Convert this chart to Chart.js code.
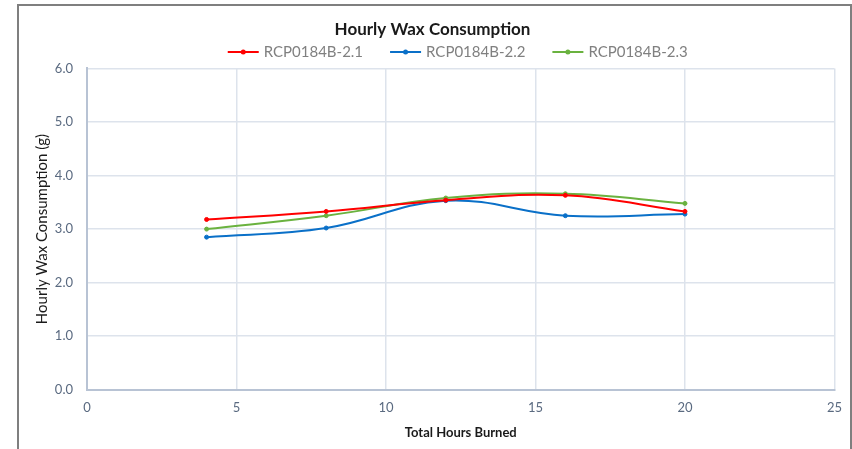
<!DOCTYPE html>
<html><head><meta charset="utf-8">
<script src="https://cdn.jsdelivr.net/npm/chart.js@4/dist/chart.umd.min.js"></script>
<style>
html,body{margin:0;padding:0;background:#fff;overflow:hidden;}
#frame{position:absolute;left:17px;top:4px;width:831px;height:470px;border:2px solid #7f7f7f;border-bottom:none;}
#wrap{position:absolute;left:0;top:0;width:852px;height:449px;}
</style></head>
<body>
<div id="frame"></div>
<div id="wrap"><canvas id="c" width="852" height="449"></canvas></div>
<script>
const hours = [4, 8, 12, 16, 20];
const seriesNames = ['RCP0184B-2.1', 'RCP0184B-2.2', 'RCP0184B-2.3'];
const s21 = [3.18, 3.33, 3.54, 3.63, 3.33];
const s22 = [2.85, 3.02, 3.53, 3.25, 3.28];
const s23 = [3.00, 3.25, 3.58, 3.66, 3.48];
const colors = ['#ff0000', '#0a70c8', '#6ab23f'];
const yTicks = [0, 1, 2, 3, 4, 5, 6];
const xTicks = [0, 5, 10, 15, 20, 25];

const all = [s21, s22, s23];
const datasets = all.map((vals, i) => ({
  label: seriesNames[i],
  data: hours.map((h, j) => ({x: h, y: vals[j]})),
  borderColor: colors[i],
  backgroundColor: colors[i],
  borderWidth: 2,
  pointRadius: 2,
  pointBorderWidth: 1,
  pointHoverRadius: 2,
  tension: 0.4,
  fill: false
}));

const lineLegend = {
  id: 'lineLegend',
  afterDraw(chart) {
    const ctx = chart.ctx;
    const ca = chart.chartArea;
    ctx.save();
    ctx.font = '15px Lato';
    const iconW = 31, gapIcon = 5, gapItem = 27;
    const items = chart.data.datasets.map((d) => ({ text: d.label, color: d.borderColor, w: ctx.measureText(d.label).width }));
    let total = 0;
    items.forEach((it, i) => { total += iconW + gapIcon + it.w + (i < items.length - 1 ? gapItem : 0); });
    let x = (ca.left + ca.right) / 2 - 3 - total / 2;
    const y = 52;
    items.forEach((it) => {
      ctx.strokeStyle = it.color; ctx.lineWidth = 2;
      ctx.beginPath(); ctx.moveTo(x, y); ctx.lineTo(x + iconW, y); ctx.stroke();
      ctx.fillStyle = it.color;
      ctx.beginPath(); ctx.arc(x + iconW / 2, y, 2.5, 0, Math.PI * 2); ctx.fill();
      ctx.fillStyle = '#808080';
      ctx.textBaseline = 'middle'; ctx.textAlign = 'left';
      ctx.fillText(it.text, x + iconW + gapIcon, y);
      x += iconW + gapIcon + it.w + gapItem;
    });
    ctx.restore();
  }
};

new Chart(document.getElementById('c'), {
  type: 'line',
  data: { datasets },
  plugins: [lineLegend],
  options: {
    responsive: false,
    animation: false,
    devicePixelRatio: 1,
    layout: { padding: { left: 22, right: 9, top: 14, bottom: 8 } },
    plugins: {
      title: {
        display: true, text: 'Hourly Wax Consumption', color: '#1a1a1a',
        font: { family: 'Lato', size: 17, weight: 'bold' },
        padding: { top: 5, bottom: 29 }
      },
      legend: { display: false },
      tooltip: { enabled: false }
    },
    scales: {
      x: {
        type: 'linear', min: 0, max: 25,
        afterBuildTicks: (ax) => { ax.ticks = xTicks.map(v => ({value: v})); },
        grid: { color: '#dde3ec', lineWidth: 1.5, drawTicks: false },
        border: { color: '#b8c3d4', width: 2 },
        ticks: { color: '#5a6a80', font: { family: 'Lato', size: 13 }, padding: 10 },
        title: { display: true, text: 'Total Hours Burned', color: '#1a1a1a',
                 font: { family: 'Lato', size: 13, weight: 'bold' }, padding: { top: 0, bottom: 0 } }
      },
      y: {
        min: 0, max: 6,
        afterBuildTicks: (ax) => { ax.ticks = yTicks.map(v => ({value: v})); },
        afterFit: (ax) => { ax.width = 65; },
        grid: { color: '#dde3ec', lineWidth: 1.5, drawTicks: false },
        border: { color: '#b8c3d4', width: 2 },
        ticks: { color: '#5a6a80', font: { family: 'Lato', size: 13 }, padding: 14,
                 callback: (v) => Number(v).toFixed(1) },
        title: { display: true, text: 'Hourly Wax Consumption (g)', color: '#1a1a1a',
                 font: { family: 'Lato', size: 15 }, padding: { top: 11, bottom: 0 } }
      }
    }
  }
});
</script>
</body></html>
